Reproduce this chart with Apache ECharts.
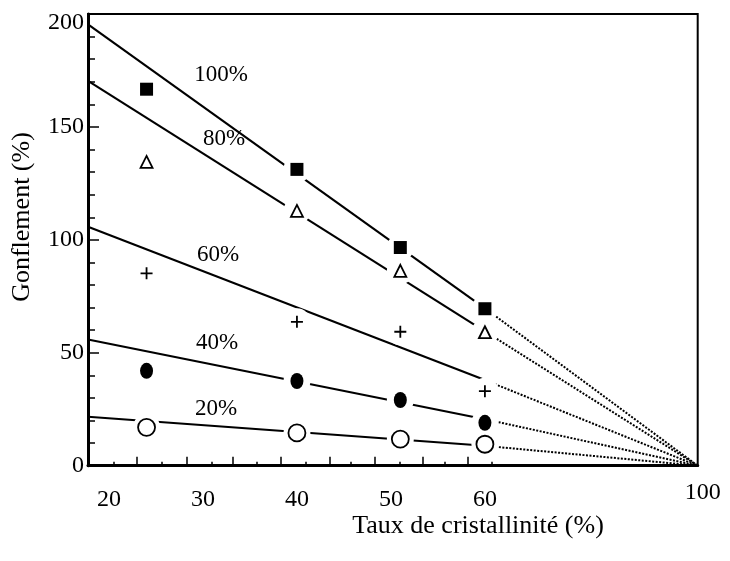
<!DOCTYPE html>
<html><head><meta charset="utf-8">
<script src="https://cdn.jsdelivr.net/npm/echarts@6/dist/echarts.min.js"></script>
<style>html,body{margin:0;padding:0;background:#fff}#c{width:730px;height:561px}</style>
</head><body><div id="c"></div>
<script>
// ---- data ----
const crystallinity = [24, 40, 51, 60];
const seriesNames = ['100%', '80%', '60%', '40%', '20%'];
const swelling100 = [166.7, 131.2, 96.6, 69.5];
const swelling80  = [134.5, 112.8, 86.3, 59.1];
const swelling60  = [85.2, 63.7, 59.3, 33.0];
const swelling40  = [42.0, 37.5, 29.1, 19.0];
const swelling20  = [17.0, 14.5, 11.8, 9.5];
// fitted straight lines: value at the axis start and at 60 % crystallinity
const fitStart = [195.4, 170.4, 105.8, 55.9, 21.7];
const fitAt60  = [69.7, 59.5, 37.9, 20.6, 8.8];
const fitEndX = 60;
// extrapolation (dotted) to 100 % crystallinity, 0 % swelling
const convergeX = 100, convergeY = 0;
const xTickLabels = [20, 30, 40, 50, 60];
const xLastLabel = 100;
const yTickLabels = [0, 50, 100, 150, 200];
// tick marks of the original axis (crystallinity units)
const xSmallTicks = [20.5, 25.6, 30.9, 35.7, 40.9, 45.7, 50.9, 55.7, 60.7];
const xTallTicks  = [23.0, 28.3, 33.2, 38.3, 43.5, 48.3, 53.4, 58.2];

// ---- broken x scale: linear to 60, compressed from 60 to 100 ----
const X_MIN = 17.77, BREAK = 60, COMPRESS = 0.566;
const T = x => x <= BREAK ? x : BREAK + (x - BREAK) * COMPRESS;
const X_MAX = T(convergeX);

const serif = 'Liberation Serif';
const allSwelling = [swelling100, swelling80, swelling60, swelling40, swelling20];
const symbols = [
  {symbol: 'rect', size: 13, color: '#000', border: '#000', bw: 0},
  {symbol: 'triangle', size: 12, color: '#fff', border: '#000', bw: 1.8},
  {symbol: 'path://M0,-10L0,10M-10,0L10,0', size: 12, color: 'none', border: '#000', bw: 1.8},
  {symbol: 'circle', size: [13, 16], color: '#000', border: '#000', bw: 0},
  {symbol: 'circle', size: 17, color: '#fff', border: '#000', bw: 1.8}
];

const series = [];
allSwelling.forEach((vals, k) => {
  series.push({
    type: 'line', xAxisIndex: 0, yAxisIndex: 0, z: 2, silent: true,
    data: [[X_MIN, fitStart[k]], [T(fitEndX), fitAt60[k]]],
    symbol: 'none', lineStyle: {color: '#000', width: 2.1}
  });
  series.push({
    type: 'line', xAxisIndex: 0, yAxisIndex: 0, z: 2, silent: true,
    data: [[T(fitEndX), fitAt60[k]], [T(convergeX), convergeY]],
    symbol: 'none', lineStyle: {color: '#000', width: 2, type: [2, 1.5]}
  });
  series.push({
    type: 'scatter', z: 3, silent: true,
    data: crystallinity.map((x, i) => [T(x), vals[i]]),
    symbol: 'circle', symbolSize: 27,
    itemStyle: {color: '#fff', opacity: 1}
  });
  const s = symbols[k];
  series.push({
    name: seriesNames[k], type: 'scatter', z: 4,
    data: crystallinity.map((x, i) => [T(x), vals[i]]),
    symbol: s.symbol, symbolSize: s.size,
    itemStyle: {color: s.color, borderColor: s.border, borderWidth: s.bw, opacity: 1}
  });
});

const labelPos = [[221, 75], [224, 139], [218, 255], [217, 343], [216, 409]];
const graphic = seriesNames.map((n, k) => ({
  type: 'text', x: labelPos[k][0], y: labelPos[k][1],
  style: {text: n, font: '23px "Liberation Serif"', fill: '#000', textAlign: 'center', textVerticalAlign: 'middle'}
}));
graphic.push({
  type: 'text', x: 478, y: 526,
  style: {text: 'Taux de cristallinité (%)', font: '26px "Liberation Serif"', fill: '#000', textAlign: 'center', textVerticalAlign: 'middle'}
});
graphic.push({
  type: 'text', x: 22, y: 217, rotation: Math.PI / 2,
  style: {text: 'Gonflement (%)', font: '26px "Liberation Serif"', fill: '#000', textAlign: 'center', textVerticalAlign: 'middle'}
});

const chart = echarts.init(document.getElementById('c'), null, {renderer: 'canvas'});
chart.setOption({
  backgroundColor: '#fff',
  animation: false,
  grid: {left: 88, top: 14, right: 32.3, bottom: 95.3, show: true, borderColor: '#000', borderWidth: 2, backgroundColor: 'transparent'},
  xAxis: [{
    type: 'value', min: X_MIN, max: X_MAX, position: 'bottom',
    axisLine: {onZero: false, lineStyle: {color: '#000', width: 3}},
    axisTick: {inside: true, length: 4, customValues: xSmallTicks, lineStyle: {color: '#000', width: 1.5}},
    axisLabel: {customValues: xTickLabels, margin: 22, color: '#000', fontFamily: serif, fontSize: 24,
      formatter: v => String(Math.round(v))},
    splitLine: {show: false}
  }, {
    type: 'value', min: X_MIN, max: X_MAX, position: 'bottom',
    axisLine: {show: false, onZero: false},
    axisTick: {inside: true, length: 9, customValues: xTallTicks, lineStyle: {color: '#000', width: 1.5}},
    axisLabel: {customValues: [T(xLastLabel)], margin: 15, color: '#000', fontFamily: serif, fontSize: 24,
      padding: [0, 0, 0, 10], formatter: () => String(xLastLabel)},
    splitLine: {show: false}
  }],
  yAxis: {
    type: 'value', min: 0, max: 200, interval: 50,
    axisLine: {show: true, lineStyle: {color: '#000', width: 3}},
    axisTick: {show: true, inside: true, length: 11, lineStyle: {color: '#000', width: 1.5}},
    minorTick: {show: true, splitNumber: 5, length: 7, lineStyle: {color: '#000', width: 1.5}},
    axisLabel: {margin: 4, color: '#000', fontFamily: serif, fontSize: 24,
      formatter: v => yTickLabels.includes(v) ? (v === 200 ? '{t|200}' : String(v)) : '',
      rich: {t: {fontFamily: serif, fontSize: 24, color: '#000', padding: [18, 0, 0, 0]}}},
    splitLine: {show: false}
  },
  graphic: graphic,
  series: series
});
</script></body></html>
